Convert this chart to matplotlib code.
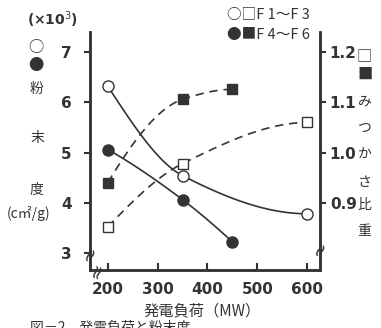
import numpy as np
import matplotlib
matplotlib.use("Agg")
import matplotlib.pyplot as plt

plt.rcParams['font.family'] = ['Noto Sans CJK JP', 'DejaVu Sans']

# fineness (x10^3 cm2/g), left axis
load_f13 = [200, 350, 600]
fine_f13 = [6.32, 4.54, 3.78]
load_f46 = [200, 350, 450]
fine_f46 = [5.06, 4.06, 3.22]

# bulk specific gravity, right axis
bulk_f13 = [0.852, 0.978, 1.06]
bulk_f46 = [0.94, 1.106, 1.126]

xticks = [200, 300, 400, 500, 600]
lticks = [3, 4, 5, 6, 7]
rticks = [0.9, 1.0, 1.1, 1.2]


def smooth(x, y, n=100):
    # monotone cubic through the points (pchip style)
    x = np.asarray(x, float)
    y = np.asarray(y, float)
    h = np.diff(x)
    d = np.diff(y) / h
    m = np.zeros(len(x))
    for k in range(1, len(x) - 1):
        if d[k - 1] * d[k] > 0:
            w1 = 2 * h[k] + h[k - 1]
            w2 = h[k] + 2 * h[k - 1]
            m[k] = (w1 + w2) / (w1 / d[k - 1] + w2 / d[k])
    for i, j, hh in [(0, 1, (h[0], h[1])), (-1, -2, (h[-1], h[-2]))]:
        e = ((2 * hh[0] + hh[1]) * d[i] - hh[0] * d[j]) / (hh[0] + hh[1])
        if np.sign(e) != np.sign(d[i]):
            e = 0
        elif np.sign(d[i]) != np.sign(d[j]) and abs(e) > abs(3 * d[i]):
            e = 3 * d[i]
        m[i] = e
    xs = np.linspace(x[0], x[-1], n)
    k = np.clip(np.searchsorted(x, xs) - 1, 0, len(x) - 2)
    t = (xs - x[k]) / h[k]
    h00 = 2 * t**3 - 3 * t**2 + 1
    h10 = t**3 - 2 * t**2 + t
    h01 = -2 * t**3 + 3 * t**2
    h11 = t**3 - t**2
    ys = h00 * y[k] + h10 * h[k] * m[k] + h01 * y[k + 1] + h11 * h[k] * m[k + 1]
    return xs, ys


fig = plt.figure(figsize=(3.81, 3.28), dpi=100)
ax = fig.add_axes([0.236, 0.177, 0.604, 0.725])
ax2 = ax.twinx()

lw = 1.2
c = '#333333'

xs, ys = smooth(load_f13, fine_f13)
ax.plot(xs, ys, '-', color=c, lw=lw)
ax.plot(load_f13, fine_f13, 'o', ms=8, mfc='white', mec=c, mew=1.0)
xs, ys = smooth(load_f46, fine_f46)
ax.plot(xs, ys, '-', color=c, lw=lw)
ax.plot(load_f46, fine_f46, 'o', ms=8, mfc=c, mec=c)

xs, ys = smooth(load_f13, bulk_f13)
ax2.plot(xs, ys, '--', color=c, lw=lw, dashes=(5, 3.5))
ax2.plot(load_f13, bulk_f13, 's', ms=7, mfc='white', mec=c, mew=1.0)
xs, ys = smooth(load_f46, bulk_f46)
ax2.plot(xs, ys, '--', color=c, lw=lw, dashes=(5, 3.5))
ax2.plot(load_f46, bulk_f46, 's', ms=7, mfc=c, mec=c)

ax.set_xlim(164, 626)
ax.set_ylim(2.66, 7.4)
ax2.set_ylim(0.766, 1.24)

for a in (ax, ax2):
    a.spines['top'].set_visible(False)
    for s in a.spines.values():
        s.set_linewidth(1.8)
        s.set_color(c)

ax.set_xticks(xticks)
ax.set_yticks(lticks)
ax2.set_yticks(rticks)
tick_font = dict(fontfamily=['Liberation Sans Narrow', 'DejaVu Sans'], fontweight='bold', fontsize=11)
ax.set_xticklabels([str(v) for v in xticks], **tick_font)
ax.set_yticklabels([str(v) for v in lticks], **tick_font)
ax2.set_yticklabels([f'{v:.1f}' for v in rticks], **tick_font)
ax.tick_params(axis='x', direction='in', length=5, width=1.5, color=c, labelcolor=c, pad=9)
ax.tick_params(axis='y', direction='out', length=4, width=1.5, color=c, labelcolor=c, pad=9)
ax2.tick_params(axis='y', direction='out', length=4, width=1.5, color=c, labelcolor=c, pad=3)

# axis break marks
for xp, yp in [(0.0, 0.07), (0.03, 0.0), (1.0, 0.09)]:
    ax.text(xp, yp, '≈', transform=ax.transAxes, ha='center', va='center',
            fontsize=14, rotation=70, color=c, family='DejaVu Sans')

# left axis labels
fig.text(0.137, 0.94, '(×10$^3$)', fontsize=10, ha='center', va='center', color=c,
         family='DejaVu Sans', fontweight='bold')
fig.text(0.093, 0.855, '○', fontsize=11, ha='center', va='center', color=c)
fig.text(0.093, 0.80, '●', fontsize=11, ha='center', va='center', color=c)
for ch, yy in [('粉', 0.73), ('末', 0.58), ('度', 0.42)]:
    fig.text(0.097, yy, ch, fontsize=10, ha='center', va='center', color=c)
fig.text(0.075, 0.35, '(c㎡/g)', fontsize=10, ha='center', va='center', color=c)

# right axis labels
fig.text(0.957, 0.83, '□', fontsize=11, ha='center', va='center', color=c)
fig.text(0.957, 0.775, '■', fontsize=11, ha='center', va='center', color=c)
for ch, yy in [('み', 0.69), ('つ', 0.61), ('か', 0.53), ('さ', 0.445), ('比', 0.375), ('重', 0.295)]:
    fig.text(0.957, yy, ch, fontsize=10, ha='center', va='center', color=c)

# legend text
fig.text(0.595, 0.955, '○□F 1～F 3', fontsize=10.5, ha='left', va='center', color=c)
fig.text(0.595, 0.893, '●■F 4～F 6', fontsize=10.5, ha='left', va='center', color=c)

fig.text(0.53, 0.052, '発電負荷（MW）', fontsize=11, ha='center', va='center', color=c)
fig.text(0.08, 0.0, '図－2　発電負荷と粉末度', fontsize=10, ha='left', va='center', color=c)

fig.savefig('out.png', dpi=100)
